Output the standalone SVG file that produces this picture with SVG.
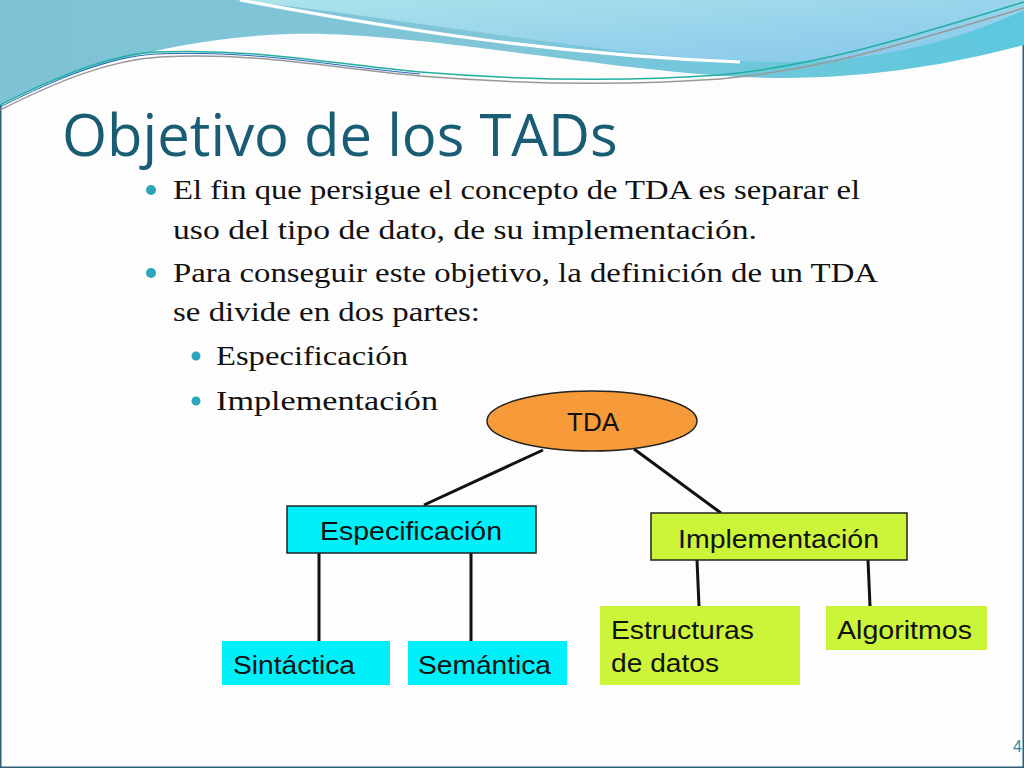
<svg xmlns="http://www.w3.org/2000/svg" width="1024" height="768" viewBox="0 0 1024 768">
<defs>
<linearGradient id="g1" x1="0" y1="0" x2="1" y2="0"><stop offset="0" stop-color="#7ec2d6"/><stop offset="0.5" stop-color="#80c6d8"/><stop offset="1" stop-color="#5cc8de"/></linearGradient>
<linearGradient id="g2" x1="0" y1="0" x2="1" y2="1"><stop offset="0" stop-color="#ace3ea"/><stop offset="1" stop-color="#86c6ec"/></linearGradient>
<style>
.body{font-family:"Liberation Serif",serif;font-size:28px;fill:#111}
.lbl{font-family:"Liberation Sans",Arial,sans-serif;font-size:26px;fill:#111}
.ln{stroke:#111;stroke-width:3;fill:none}
.nd{stroke:#222;stroke-width:1.5}
</style>
</defs>
<rect width="1024" height="768" fill="#fdfdfd" stroke="#2d5f78" stroke-width="3"/>
<path d="M0,0 H1024 V45 C960,62 880,78 780,78 C640,78 420,30 290,34 C170,38 70,70 0,105 Z" fill="url(#g1)"/>
<path d="M235,0 H1024 V10 C960,40 880,62 780,62 C640,62 420,20 235,0 Z" fill="url(#g2)"/>
<path d="M240,0 C400,30 560,55 740,62" stroke="#fff" stroke-width="3" fill="none"/>
<path d="M0,105 C60,75 110,55 155,52 C260,48 330,64 420,72 C520,80 620,82 720,75 C820,65 900,40 1024,2" fill="none" stroke="#20b0a0" stroke-width="1.5"/>
<path d="M0,110 C60,80 110,60 160,57 C260,52 330,68 420,76 C520,84 620,86 720,79 C820,70 900,45 1024,8" fill="none" stroke="#999" stroke-width="1.5"/>
<path d="M0,107 C60,77 110,57 155,54 C260,50 330,66 420,74" fill="none" stroke="#2266bb" stroke-width="1"/>
<text x="62" y="156" font-family="Open Sans,Liberation Sans,sans-serif" font-size="58" fill="#195d75">Objetivo de los TADs</text>
<g fill="#2aa6b8"><circle cx="151" cy="190" r="5"/><circle cx="151" cy="273" r="5"/><circle cx="196" cy="356" r="4.5"/><circle cx="196" cy="401" r="4.5"/></g>
<text class="body" x="173" y="199" textLength="687" lengthAdjust="spacingAndGlyphs">El fin que persigue el concepto de TDA es separar el</text>
<text class="body" x="173" y="239" textLength="584" lengthAdjust="spacingAndGlyphs">uso del tipo de dato, de su implementación.</text>
<text class="body" x="173" y="282" textLength="705" lengthAdjust="spacingAndGlyphs">Para conseguir este objetivo, la definición de un TDA</text>
<text class="body" x="173" y="321" textLength="307" lengthAdjust="spacingAndGlyphs">se divide en dos partes:</text>
<text class="body" x="216" y="365" textLength="192" lengthAdjust="spacingAndGlyphs">Especificación</text>
<text class="body" x="216" y="410" textLength="222" lengthAdjust="spacingAndGlyphs">Implementación</text>
<g id="connectors">
<line class="ln" x1="543" y1="450" x2="424" y2="505"/>
<line class="ln" x1="634" y1="449" x2="721" y2="513"/>
<line class="ln" x1="319" y1="553" x2="319" y2="641"/>
<line class="ln" x1="471" y1="553" x2="471" y2="641"/>
<line class="ln" x1="697" y1="560" x2="699" y2="606"/>
<line class="ln" x1="868" y1="560" x2="870" y2="606"/>
</g>
<g id="tda"><ellipse cx="592" cy="421" rx="105" ry="30" fill="#f79a3a" class="nd"/><text class="lbl" x="593" y="431" text-anchor="middle">TDA</text></g>
<g id="esp"><rect x="287" y="506" width="249" height="47" fill="#00f0fa" class="nd"/><text class="lbl" x="320" y="540" textLength="182" lengthAdjust="spacingAndGlyphs">Especificación</text></g>
<g id="imp"><rect x="651" y="513" width="256" height="47" fill="#ccf53a" class="nd"/><text class="lbl" x="678" y="548" textLength="201" lengthAdjust="spacingAndGlyphs">Implementación</text></g>
<g id="sin"><rect x="222" y="641" width="168" height="44" fill="#00f0fa"/><text class="lbl" x="233" y="674" textLength="122" lengthAdjust="spacingAndGlyphs">Sintáctica</text></g>
<g id="sem"><rect x="408" y="641" width="159" height="44" fill="#00f0fa"/><text class="lbl" x="418" y="674" textLength="133" lengthAdjust="spacingAndGlyphs">Semántica</text></g>
<g id="est"><rect x="600" y="606" width="200" height="79" fill="#ccf53a"/><text class="lbl" x="611" y="639" textLength="143" lengthAdjust="spacingAndGlyphs">Estructuras</text><text class="lbl" x="611" y="672" textLength="108" lengthAdjust="spacingAndGlyphs">de datos</text></g>
<g id="alg"><rect x="826" y="606" width="161" height="44" fill="#ccf53a"/><text class="lbl" x="837" y="639" textLength="135" lengthAdjust="spacingAndGlyphs">Algoritmos</text></g>
<text x="1013" y="752" font-family="Liberation Sans,sans-serif" font-size="16" fill="#2a8aa0">4</text>
</svg>
